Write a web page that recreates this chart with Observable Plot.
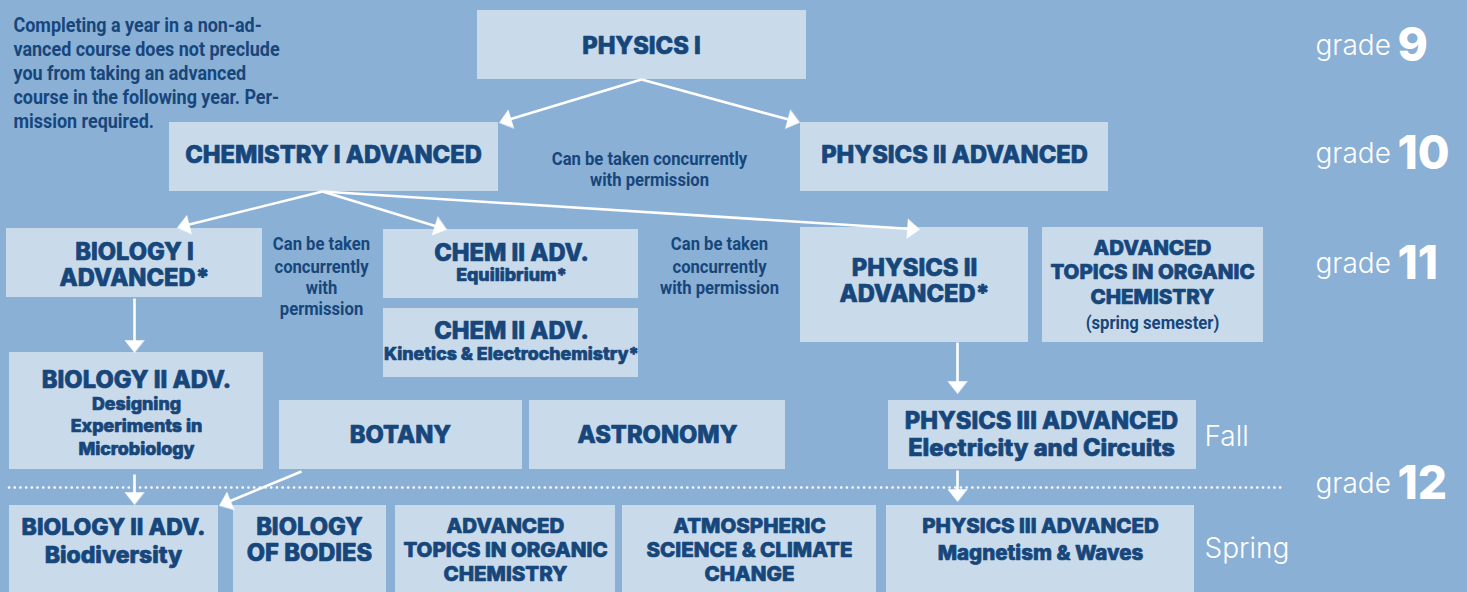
<!DOCTYPE html>
<html><head><meta charset="utf-8">
<script src="https://cdn.jsdelivr.net/npm/d3@7"></script>
<script src="https://cdn.jsdelivr.net/npm/@observablehq/plot@0.6"></script>
<style>
html,body{margin:0;padding:0;background:#8AB0D6;overflow:hidden;}
</style></head><body><div id="chart"></div>
<script>
// Course boxes (diagram coordinates)
const boxes = [
  {course:"Physics I", x1:477,x2:806,y1:10,y2:79},
  {course:"Chemistry I Adv", x1:169,x2:498,y1:122,y2:191},
  {course:"Physics II Adv (10)", x1:800,x2:1108,y1:122,y2:191},
  {course:"Biology I Adv", x1:6,x2:262,y1:228,y2:297},
  {course:"Chem II Eq", x1:383,x2:638,y1:229,y2:298},
  {course:"Chem II Kin", x1:383,x2:638,y1:308,y2:377},
  {course:"Physics II Adv (11)", x1:800,x2:1028,y1:227,y2:342},
  {course:"Organic (11)", x1:1042,x2:1263,y1:227,y2:342},
  {course:"Biology II Design", x1:9,x2:263,y1:352,y2:469},
  {course:"Botany", x1:279,x2:522,y1:400,y2:469},
  {course:"Astronomy", x1:529,x2:785,y1:400,y2:469},
  {course:"Physics III E&C", x1:888,x2:1196,y1:400,y2:469},
  {course:"Biology II Biodiv", x1:9,x2:218,y1:505,y2:592},
  {course:"Biology of Bodies", x1:233,x2:386,y1:505,y2:592},
  {course:"Organic (12)", x1:395,x2:615,y1:505,y2:592},
  {course:"Atmospheric", x1:622,x2:876,y1:505,y2:592},
  {course:"Physics III M&W", x1:886,x2:1194,y1:505,y2:592}
];

// Prerequisite arrows: from -> tip
const arrows = [
  {x1:641,y1:79,x2:499,y2:122},
  {x1:641,y1:79,x2:799,y2:122},
  {x1:322,y1:191,x2:177,y2:227},
  {x1:322,y1:191,x2:446,y2:229},
  {x1:322,y1:191,x2:919,y2:229},
  {x1:134,y1:298,x2:134,y2:352},
  {x1:957,y1:342,x2:957,y2:393},
  {x1:134,y1:474,x2:134,y2:504},
  {x1:301,y1:471,x2:219,y2:505},
  {x1:957,y1:470,x2:957,y2:501}
];

const dividers = [{y:487, x1:9, x2:1285}];

// Text lines
const labels = [
  {kind:"h1", x:641, y:46, text:"PHYSICS I"},
  {kind:"h1", x:333, y:155, text:"CHEMISTRY I ADVANCED"},
  {kind:"h1", x:954, y:155, text:"PHYSICS II ADVANCED"},
  {kind:"h1loose", x:134, y:264, text:"BIOLOGY I\nADVANCED*"},
  {kind:"h1", x:511, y:253, text:"CHEM II ADV."},
  {kind:"h3", x:511, y:275, text:"Equilibrium*"},
  {kind:"h1", x:511, y:331, text:"CHEM II ADV."},
  {kind:"h3", x:511, y:354, text:"Kinetics & Electrochemistry*"},
  {kind:"h1loose", x:914, y:280, text:"PHYSICS II\nADVANCED*"},
  {kind:"h2", x:1152, y:248, text:"ADVANCED"},
  {kind:"h2", x:1152, y:272, text:"TOPICS IN ORGANIC"},
  {kind:"h2", x:1152, y:297, text:"CHEMISTRY"},
  {kind:"note", x:1152, y:322, text:"(spring semester)"},
  {kind:"h1", x:136, y:380, text:"BIOLOGY II ADV."},
  {kind:"h3", x:136, y:404, text:"Designing"},
  {kind:"h3", x:136, y:426, text:"Experiments in"},
  {kind:"h3", x:136, y:449, text:"Microbiology"},
  {kind:"h1", x:400, y:435, text:"BOTANY"},
  {kind:"h1", x:657, y:435, text:"ASTRONOMY"},
  {kind:"h1", x:1041, y:421, text:"PHYSICS III ADVANCED"},
  {kind:"h1", x:1041, y:448, text:"Electricity and Circuits"},
  {kind:"h1b", x:113, y:527, text:"BIOLOGY II ADV."},
  {kind:"h1b", x:113, y:555, text:"Biodiversity"},
  {kind:"h1loose", x:309, y:539, text:"BIOLOGY\nOF BODIES"},
  {kind:"h2", x:505, y:526, text:"ADVANCED"},
  {kind:"h2", x:505, y:550, text:"TOPICS IN ORGANIC"},
  {kind:"h2", x:505, y:574, text:"CHEMISTRY"},
  {kind:"h2", x:749, y:526, text:"ATMOSPHERIC"},
  {kind:"h2", x:749, y:550, text:"SCIENCE & CLIMATE"},
  {kind:"h2", x:749, y:574, text:"CHANGE"},
  {kind:"h2", x:1040, y:526, text:"PHYSICS III ADVANCED"},
  {kind:"h2", x:1040, y:553, text:"Magnetism & Waves"}
];

const notes = [
  {x:649, y:158, text:"Can be taken concurrently"},
  {x:649, y:179, text:"with permission"},
  {x:321, y:243, text:"Can be taken"},
  {x:321, y:266, text:"concurrently"},
  {x:321, y:287, text:"with"},
  {x:321, y:308, text:"permission"},
  {x:719, y:243, text:"Can be taken"},
  {x:719, y:266, text:"concurrently"},
  {x:719, y:287, text:"with permission"}
];

const introLines = [
  "Completing a year in a non-ad-",
  "vanced course does not preclude",
  "you from taking an advanced",
  "course in the following year. Per-",
  "mission required."
];
const introY = [25, 49, 73, 97, 121];

const grades = [
  {grade:"9", y:46},
  {grade:"10", y:154},
  {grade:"11", y:264},
  {grade:"12", y:484}
];
const terms = [
  {term:"Fall", y:437},
  {term:"Spring", y:549}
];

// ---- derived geometry ----
const HEAD_L = 12, HEAD_W = 19;
const shafts = [], heads = [];
arrows.forEach((a, i) => {
  const dx = a.x2 - a.x1, dy = a.y2 - a.y1, len = Math.hypot(dx, dy);
  const ux = dx/len, uy = dy/len, px = -uy, py = ux;
  const bx = a.x2 - HEAD_L*ux, by = a.y2 - HEAD_L*uy;
  shafts.push({x1:a.x1, y1:a.y1, x2:bx + ux, y2:by + uy});
  heads.push({id:i, x:a.x2, y:a.y2});
  heads.push({id:i, x:bx + px*HEAD_W/2, y:by + py*HEAD_W/2});
  heads.push({id:i, x:bx - px*HEAD_W/2, y:by - py*HEAD_W/2});
});

const NAVY = "#17467B", BOX = "#C9DBEB", BG = "#8AB0D6";
const HEAVY = "Inter, 'Open Sans', sans-serif";
const COND = "Roboto, 'Liberation Sans', sans-serif";
const heavy = {fontWeight:800, fontFamily:HEAVY, stroke:NAVY, strokeWidth:0.7};
const styles = {
  h1: {fontSize:23.7, ...heavy},
  h1loose: {fontSize:23.7, lineHeight:1.1, ...heavy},
  h1b:{fontSize:23, ...heavy},
  h2: {fontSize:20.5, ...heavy},
  h3: {fontSize:17.8, ...heavy}
};
const condensed = {fill:NAVY, fontWeight:700, fontFamily:COND};

const W = 1467, H = 592;
const chart = Plot.plot({
  width: W, height: H, margin: 0,
  x: {domain:[0, W], range:[0, W], axis:null},
  y: {domain:[0, H], range:[0, H], axis:null},
  style: {background: BG, overflow: "visible"},
  marks: [
    Plot.rect(boxes, {x1:"x1", x2:"x2", y1:"y1", y2:"y2", fill:BOX}),
    Plot.ruleY(dividers, {y:"y", x1:"x1", x2:"x2", stroke:"white", strokeWidth:2.6, strokeDasharray:"0.1 5.6", strokeLinecap:"round"}),
    Plot.link(shafts, {x1:"x1", y1:"y1", x2:"x2", y2:"y2", stroke:"white", strokeWidth:2.6}),
    Plot.line(heads, {x:"x", y:"y", z:"id", fill:"white", stroke:"white", strokeWidth:0.5, curve:"linear-closed"}),
    ...Object.entries(styles).map(([k, s]) =>
      Plot.text(labels.filter(d => d.kind === k), {x:"x", y:"y", text:"text", fill:NAVY, ...s})),
    Plot.text(labels.filter(d => d.kind === "note"), {x:"x", y:"y", text:"text", fontSize:19, ...condensed}),
    Plot.text(notes, {x:"x", y:"y", text:"text", fontSize:18.9, ...condensed}),
    Plot.text(introLines, {x:13, y:(d, i) => introY[i], text:d => d, textAnchor:"start", fontSize:20.4, ...condensed}),
    Plot.text(grades, {x:1315, y:"y", text:() => "grade", textAnchor:"start", fill:"white", fontSize:28, fontWeight:300, fontFamily:"Inter, Roboto, sans-serif"}),
    Plot.text(grades, {x:1397, y:"y", text:"grade", textAnchor:"start", fill:"white", fontSize:46, fontWeight:800, fontFamily:"Inter, 'Liberation Sans', sans-serif"}),
    Plot.text(terms, {x:1204, y:"y", text:"term", textAnchor:"start", fill:"white", fontSize:28, fontWeight:300, fontFamily:"Inter, Roboto, sans-serif"})
  ]
});
// narrow the condensed-style texts horizontally around their anchor
d3.select(chart).selectAll("g").filter(function() {
  return this.getAttribute("font-family") === COND;
}).selectAll("text").each(function() {
  const t = this.getAttribute("transform");
  if (t) this.setAttribute("transform", t + " scale(0.88,1)");
});
document.getElementById("chart").append(chart);
</script>
</body></html>
